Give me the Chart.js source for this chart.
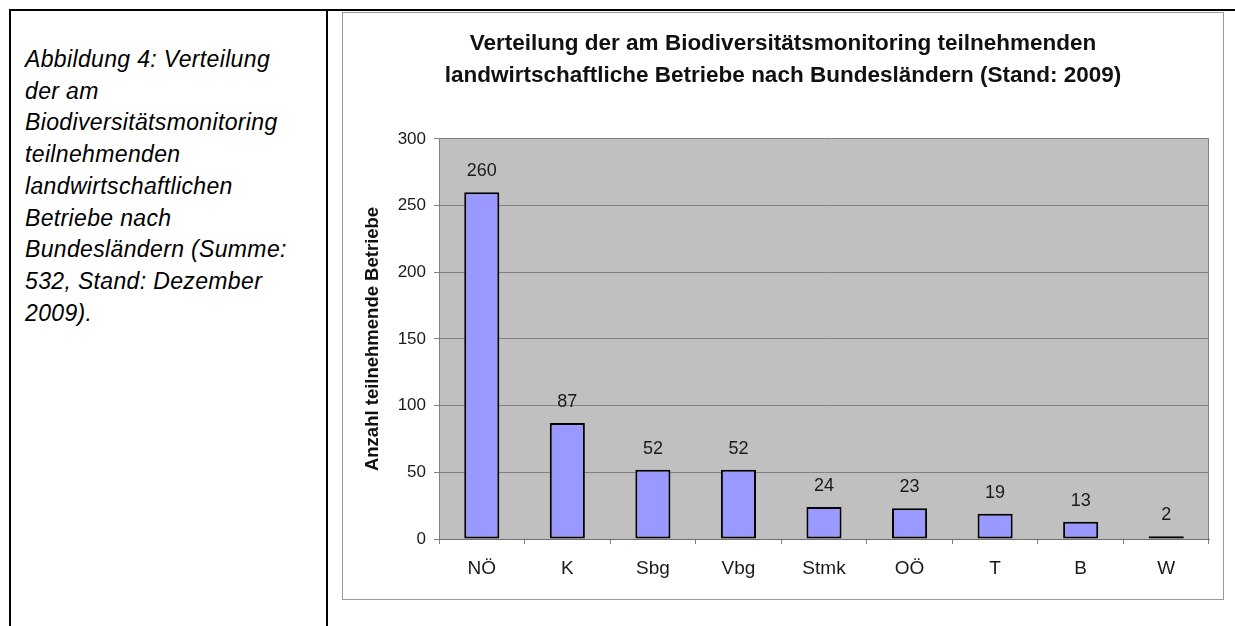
<!DOCTYPE html>
<html>
<head>
<meta charset="utf-8">
<script src="https://cdn.jsdelivr.net/npm/chart.js@4.4.0/dist/chart.umd.min.js"></script>
<style>
  html, body { margin: 0; padding: 0; background: #fff; width: 1235px; height: 626px; overflow: hidden; }
  .line { position: absolute; background: #000; }
  #caption {
    position: absolute; left: 25px; top: 44px; width: 300px;
    font-family: "Liberation Sans", Arial, Helvetica, sans-serif;
    font-style: italic; font-size: 23px; line-height: 31.7px; letter-spacing: 0.35px; color: #000;
    white-space: nowrap;
  }
  #frame {
    position: absolute; left: 342px; top: 12px; width: 882px; height: 588px;
    box-sizing: border-box; border: 1px solid #9a9a9a; background: #fff;
  }
  #frame canvas { display: block; }
</style>
</head>
<body>
<div class="line" style="left:9px; top:9px; width:1226px; height:2px;"></div>
<div class="line" style="left:9px; top:9px; width:2px; height:617px;"></div>
<div class="line" style="left:326px; top:9px; width:2px; height:617px;"></div>
<div id="caption">Abbildung 4: Verteilung<br>der am<br>Biodiversitätsmonitoring<br>teilnehmenden<br>landwirtschaftlichen<br>Betriebe nach<br>Bundesländern (Summe:<br>532, Stand: Dezember<br>2009).</div>
<div id="frame"><canvas id="c"></canvas></div>
<script>
const titleLines = [
  'Verteilung der am Biodiversitätsmonitoring teilnehmenden',
  'landwirtschaftliche Betriebe nach Bundesländern (Stand: 2009)'
];
const yAxisTitle = 'Anzahl teilnehmende Betriebe';
const categories = ['NÖ', 'K', 'Sbg', 'Vbg', 'Stmk', 'OÖ', 'T', 'B', 'W'];
const values = [260, 87, 52, 52, 24, 23, 19, 13, 2];
const yTickValues = [0, 50, 100, 150, 200, 250, 300];

const FONT = '"Liberation Sans", Arial, Helvetica, sans-serif';

const plotDecor = {
  id: 'plotDecor',
  beforeDraw(chart) {
    const {ctx, chartArea: a} = chart;
    ctx.save();
    ctx.fillStyle = '#c0c0c0';
    ctx.fillRect(a.left, a.top, a.right - a.left, a.bottom - a.top);
    ctx.restore();
  },
  beforeDatasetsDraw(chart) {
    const {ctx, chartArea: a} = chart;
    ctx.save();
    ctx.strokeStyle = '#808080';
    ctx.lineWidth = 1;
    ctx.beginPath();
    ctx.moveTo(Math.round(a.right) - 0.5, a.top);
    ctx.lineTo(Math.round(a.right) - 0.5, a.bottom);
    ctx.stroke();
    ctx.restore();
  },
  afterDatasetsDraw(chart) {
    const {ctx} = chart;
    const meta = chart.getDatasetMeta(0);
    const ds = chart.data.datasets[0];
    ctx.save();
    ctx.font = '18px ' + FONT;
    ctx.fillStyle = '#1a1a1a';
    ctx.textAlign = 'center';
    ctx.textBaseline = 'middle';
    meta.data.forEach((bar, i) => {
      ctx.fillText(String(ds.data[i]), bar.x, bar.y - 21);
    });
    ctx.restore();
  }
};

new Chart(document.getElementById('c'), {
  type: 'bar',
  data: {
    labels: categories,
    datasets: [{
      data: values,
      backgroundColor: '#9999ff',
      borderColor: '#000000',
      borderWidth: 2,
      borderSkipped: false,
      barPercentage: 0.41,
      categoryPercentage: 1.0
    }]
  },
  options: {
    responsive: true,
    maintainAspectRatio: false,
    devicePixelRatio: 1,
    animation: false,
    layout: { padding: { left: 14, right: 14, top: 0, bottom: 0 } },
    plugins: {
      legend: { display: false },
      tooltip: { enabled: false },
      title: {
        display: true,
        text: titleLines,
        color: '#111111',
        font: { family: FONT, size: 22.5, weight: 'bold', lineHeight: 1.42 },
        padding: { top: 15, bottom: 47 }
      }
    },
    scales: {
      x: {
        afterFit(scale) { scale.height = 60; },
        grid: {
          offset: true,
          drawOnChartArea: false,
          drawTicks: true,
          tickLength: 5,
          color: '#808080'
        },
        border: { color: '#707070', width: 1 },
        ticks: {
          color: '#1a1a1a',
          font: { family: FONT, size: 19 },
          padding: 13,
          maxRotation: 0
        }
      },
      y: {
        min: 0,
        max: 300,
        afterFit(scale) { scale.width = 82; },
        afterBuildTicks(scale) { scale.ticks = yTickValues.map(v => ({ value: v })); },
        grid: {
          color: '#808080',
          lineWidth: 1,
          tickLength: 5,
          drawTicks: true
        },
        border: { color: '#808080', width: 1 },
        ticks: {
          color: '#1a1a1a',
          font: { family: FONT, size: 17 },
          padding: 8
        },
        title: {
          display: true,
          text: yAxisTitle,
          color: '#111111',
          font: { family: FONT, size: 18.5, weight: 'bold' },
          padding: { top: 5, bottom: 0 }
        }
      }
    }
  },
  plugins: [plotDecor]
});
</script>
</body>
</html>
